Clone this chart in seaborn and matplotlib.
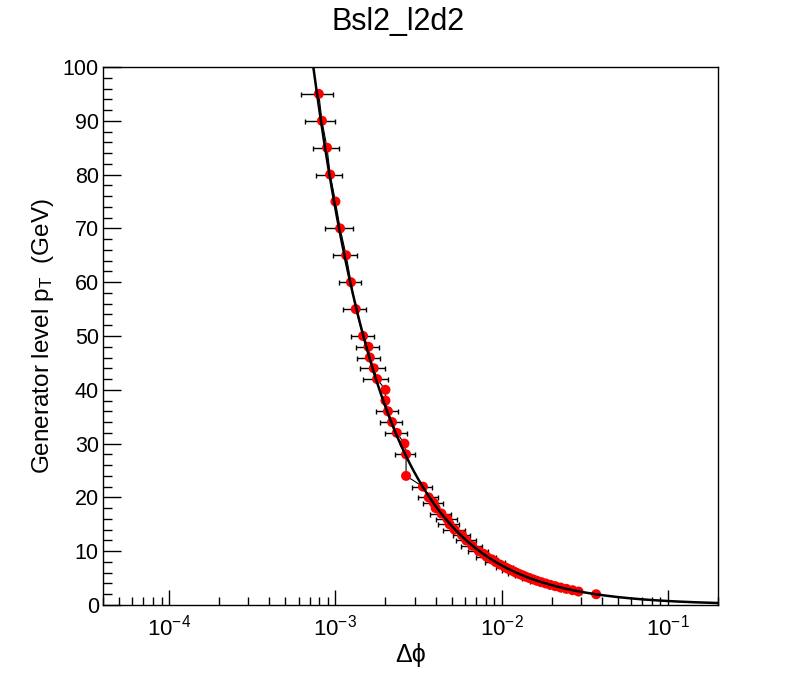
import numpy as np
import pandas as pd
import matplotlib
matplotlib.use("Agg")
import matplotlib.pyplot as plt
import seaborn as sns
from matplotlib.ticker import LogLocator, MultipleLocator, NullFormatter

# ---------------- data ----------------
pt = [95, 90, 85, 80, 75, 70, 65, 60, 55, 50,
      48, 46, 44, 42, 40, 38, 36, 34, 32, 30,
      28, 24, 22, 20, 19, 18, 17, 16, 15, 14,
      13, 12, 11, 10, 9.5, 9, 8.5, 8, 7.5, 7,
      6.75, 6.5, 6.25, 6, 5.75, 5.5, 5.25, 5, 4.75, 4.5,
      4.25, 4, 3.75, 3.5, 3.25, 3, 2.75, 2.5, 2]

dphi = [7.94e-4, 8.30e-4, 8.90e-4, 9.30e-4, 1.00e-3, 1.067e-3, 1.16e-3, 1.24e-3, 1.325e-3, 1.466e-3,
        1.58e-3, 1.61e-3, 1.70e-3, 1.78e-3, 2.00e-3, 2.00e-3, 2.07e-3, 2.19e-3, 2.34e-3, 2.60e-3,
        2.66e-3, 2.66e-3, 3.36e-3, 3.64e-3, 3.90e-3, 4.01e-3, 4.34e-3, 4.71e-3, 4.86e-3, 5.21e-3,
        5.77e-3, 6.13e-3, 6.65e-3, 7.29e-3, 7.80e-3, 8.10e-3, 8.70e-3, 9.20e-3, 9.80e-3, 1.05e-2,
        1.09e-2, 1.13e-2, 1.18e-2, 1.22e-2, 1.28e-2, 1.34e-2, 1.40e-2, 1.47e-2, 1.55e-2, 1.63e-2,
        1.73e-2, 1.84e-2, 1.96e-2, 2.10e-2, 2.26e-2, 2.45e-2, 2.67e-2, 2.90e-2, 3.70e-2]

dphi_err = [1.7e-4, 1.7e-4, 1.6e-4, 1.7e-4, 0.0, 2.0e-4, 1.9e-4, 1.9e-4, 2.1e-4, 2.3e-4,
            2.5e-4, 2.55e-4, 2.85e-4, 3.05e-4, 0.0, 0.0, 3.2e-4, 3.25e-4, 3.6e-4, 0.0,
            3.7e-4, 0.0, 4.65e-4, 4.9e-4, 5.5e-4, 0.0, 6.3e-4, 6.8e-4, 7.1e-4, 7.8e-4,
            6.9e-4, 8.5e-4, 9.3e-4, 1.0e-3, 0.0, 1.1e-3, 0.0, 1.3e-3, 0.0, 1.2e-3,
            0.0, 1.2e-3, 0.0, 1.3e-3, 0.0, 1.3e-3, 0.0, 1.4e-3, 0.0, 1.5e-3,
            0.0, 1.6e-3, 0.0, 1.7e-3, 0.0, 1.8e-3, 0.0, 0.0, 0.0]

title = "Bsl2_l2d2"
xlabel = "\u0394\u03d5"
ylabel = r"Generator level p$_{\mathregular{T}}$  (GeV)"

df = pd.DataFrame({"dphi": dphi, "pt": pt, "err": dphi_err})

# simple 1/pT fit derived from the points
a_fit = float(np.median(df["dphi"] * df["pt"]))
fit_pt = np.geomspace(a_fit / 0.2, 100, 400)
fit_df = pd.DataFrame({"dphi": a_fit / fit_pt, "pt": fit_pt})

# ---------------- style ----------------
sns.set_theme(style="white")
plt.rcParams["font.family"] = ["Liberation Sans", "DejaVu Sans"]
plt.rcParams["mathtext.fontset"] = "custom"
plt.rcParams["mathtext.rm"] = "Liberation Sans"
plt.rcParams["mathtext.it"] = "Liberation Sans:italic"
plt.rcParams["mathtext.bf"] = "Liberation Sans:bold"
for k in ["text.color", "axes.labelcolor", "xtick.color", "ytick.color", "axes.edgecolor"]:
    plt.rcParams[k] = "black"

fig = plt.figure(figsize=(7.98, 6.74), dpi=100)
ax = fig.add_axes([103 / 798, 1 - 605 / 674, (718 - 103) / 798, (605 - 67) / 674])

# error bars
ax.errorbar(df["dphi"], df["pt"], xerr=df["err"], fmt="none", ecolor="black",
            elinewidth=1.0, capsize=1.8, capthick=1.0, zorder=2)
# thin connecting line
sns.lineplot(data=df, x="dphi", y="pt", sort=False, estimator=None, color="black",
             linewidth=0.8, ax=ax, zorder=3)
# points
sns.scatterplot(data=df, x="dphi", y="pt", color="red", s=52, edgecolor="none",
                ax=ax, zorder=4)
# fit curve
sns.lineplot(data=fit_df, x="dphi", y="pt", sort=False, estimator=None, color="black",
             linewidth=1.8, ax=ax, zorder=5)

ax.set_xscale("log")
ax.set_xlim(4.0e-5, 0.2)
ax.set_ylim(0, 100)

ax.xaxis.set_major_locator(LogLocator(base=10, numticks=20))
ax.xaxis.set_minor_locator(LogLocator(base=10, subs=np.arange(2, 10), numticks=100))
ax.xaxis.set_minor_formatter(NullFormatter())
ax.yaxis.set_major_locator(MultipleLocator(10))
ax.yaxis.set_minor_locator(MultipleLocator(2))

for s in ax.spines.values():
    s.set_color("black")
    s.set_linewidth(1.0)

ax.tick_params(axis="x", which="major", direction="in", length=11, width=1, pad=7,
               labelsize=16, colors="black", top=False, bottom=True)
ax.tick_params(axis="x", which="minor", direction="in", length=6, width=1,
               top=False, bottom=True, colors="black")
ax.tick_params(axis="y", which="major", direction="in", length=13, width=1, pad=3,
               labelsize=15.5, colors="black", left=True, right=False)
ax.tick_params(axis="y", which="minor", direction="in", length=6.5, width=1,
               left=True, right=False, colors="black")

ax.set_xlabel(xlabel, fontsize=18, labelpad=2, color="black")
ax.set_ylabel(ylabel, fontsize=17.5, labelpad=5, color="black")
ax.grid(False)

fig.text(398 / 798, 1 - 22 / 674, title, ha="center", va="center", fontsize=22,
         color="black")

fig.savefig("out.png", dpi=100)
